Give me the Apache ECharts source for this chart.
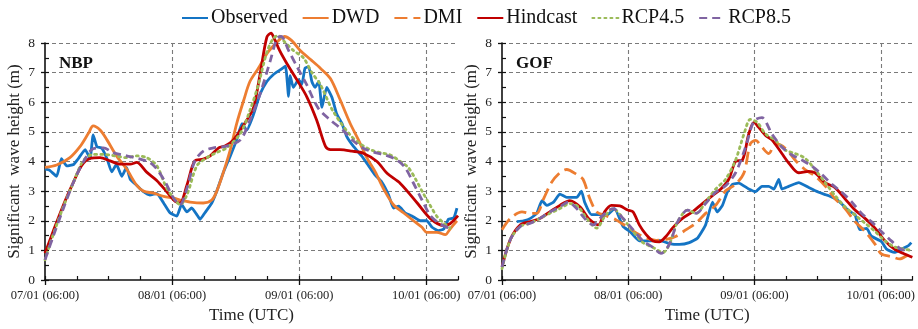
<!DOCTYPE html>
<html>
<head>
<meta charset="utf-8">
<script src="https://cdn.jsdelivr.net/npm/echarts@6/dist/echarts.min.js"></script>
<style>
  html, body { margin: 0; padding: 0; background: #fff; }
  #chart { width: 918px; height: 329px; }
</style>
</head>
<body>
<div id="chart"></div>
<script>
// Hours since 07/01 06:00 UTC, significant wave height (m)
const seriesNames = ['Observed', 'DWD', 'DMI', 'Hindcast', 'RCP4.5', 'RCP8.5'];
const panelNames = ['NBP', 'GOF'];
const xTickLabels = ['07/01 (06:00)', '08/01 (06:00)', '09/01 (06:00)', '10/01 (06:00)'];

const nbpObserved = [[0,3.75],[0.9,3.7],[2.2,3.5],[3.1,4.1],[4.1,3.85],[5.4,3.9],[6.3,4.1],[7.6,4.4],[8.5,4.1],[9.1,4.9],[9.8,4.5],[10.7,4.45],[11.7,4.1],[12.6,3.65],[13.5,3.9],[14.5,3.5],[15.4,3.8],[16.1,3.4],[17.3,3.2],[18.6,2.98],[19.8,2.87],[21.1,2.92],[22.4,2.6],[23.6,2.27],[24.9,2.16],[25.8,2.55],[26.8,2.3],[27.7,2.43],[28.7,2.2],[29.3,2.05],[30.2,2.27],[31.5,2.6],[32.4,2.98],[33.7,3.64],[35.0,4.19],[36.2,4.73],[37.2,5.28],[38.1,5.06],[39.4,5.6],[40.6,6.27],[41.9,6.7],[43.1,6.93],[44.4,7.09],[45.4,7.22],[46.0,6.2],[46.3,6.9],[46.9,6.5],[47.9,6.76],[48.5,6.6],[49.1,7.15],[49.8,7.2],[50.4,6.7],[51.0,6.5],[51.7,6.7],[52.3,5.83],[53.2,6.5],[54.2,6.16],[55.1,5.6],[56.1,5.28],[57.0,4.84],[58.3,4.5],[59.8,4.19],[61.1,3.86],[62.4,3.53],[63.6,3.31],[64.9,2.87],[65.8,2.43],[66.8,2.49],[68.0,2.27],[69.3,2.16],[70.9,2.0],[72.1,2.0],[73.1,1.78],[74.3,1.67],[75.3,1.72],[76.2,2.05],[77.2,2.1],[77.8,2.43]];
const nbpDWD = [[0,3.8],[2.2,3.88],[4.7,4.13],[6.6,4.5],[8.2,4.95],[9.1,5.2],[10.4,5.06],[11.7,4.73],[13.5,4.19],[15.4,3.75],[17.3,3.2],[18.6,3.0],[20.5,2.93],[22.4,2.82],[24.3,2.76],[25.5,2.7],[27.4,2.63],[29.9,2.6],[31.5,2.7],[32.4,2.98],[33.7,3.64],[35.0,4.4],[36.2,5.28],[37.5,6.05],[38.7,6.7],[40.3,7.15],[41.9,7.64],[43.1,7.9],[44.4,8.13],[45.2,8.22],[46.6,8.08],[48.2,7.75],[50.1,7.45],[52.0,7.15],[53.9,6.8],[55.7,6.1],[57.6,5.3],[59.2,4.73],[60.8,4.12],[62.4,3.64],[63.9,3.09],[65.8,2.54],[67.7,2.27],[69.6,2.0],[71.2,1.78],[72.1,1.61],[74.0,1.61],[75.6,1.53],[76.5,1.72],[77.8,2.0]];
const nbpHindcast = [[0,0.9],[1.6,1.67],[3.5,2.54],[5.4,3.31],[6.9,3.86],[8.5,4.1],[10.4,4.13],[12.3,4.02],[14.2,3.91],[16.1,3.91],[17.3,3.97],[19.2,3.64],[21.1,3.36],[23.0,2.98],[24.6,2.65],[25.5,2.6],[26.8,3.2],[28.3,4.02],[29.9,4.08],[31.2,4.19],[32.8,4.46],[34.0,4.52],[35.6,4.73],[36.9,5.06],[38.1,5.39],[39.4,5.83],[40.6,6.93],[41.9,8.2],[42.7,8.33],[43.3,8.15],[44.3,7.75],[45.7,7.3],[47.6,6.75],[49.4,6.2],[51.3,5.4],[53.0,4.5],[53.9,4.4],[55.7,4.4],[58.0,4.35],[60.1,4.28],[62.7,4.0],[64.6,3.6],[67.1,3.26],[70.3,2.6],[72.8,2.07],[75.2,1.84],[76.5,1.9],[78,2.17]];
const nbpRCP45 = [[0,0.68],[1.6,1.56],[3.5,2.49],[5.4,3.31],[7.2,4.02],[9.1,4.24],[11.0,4.24],[12.9,4.2],[15.4,4.13],[17.3,4.19],[19.2,4.13],[21.1,3.86],[23.0,3.09],[24.6,2.7],[25.5,2.54],[26.8,2.87],[28.7,3.86],[30.6,4.13],[32.4,4.3],[34.3,4.46],[36.9,4.95],[38.7,5.72],[40.3,6.6],[41.9,7.69],[43.1,8.15],[44.1,8.25],[45.2,8.05],[46.9,7.75],[48.8,7.5],[50.4,7.0],[52.0,6.6],[54.4,5.7],[57.6,4.9],[59.5,4.6],[61.4,4.4],[63.3,4.3],[65.2,4.22],[67.1,4.0],[68.6,3.8],[70.0,3.4],[71.2,3.0],[72.8,2.5],[74.0,2.15],[75.2,1.94],[76.5,1.75]];
const nbpRCP85 = [[0,0.68],[1.6,1.5],[3.5,2.43],[5.4,3.31],[7.2,3.97],[9.1,4.43],[11.0,4.46],[12.9,4.3],[15.4,4.19],[18.0,4.08],[19.8,3.97],[21.1,3.75],[22.7,3.31],[24.3,2.76],[25.5,2.54],[26.8,3.09],[28.3,4.02],[29.9,4.35],[31.8,4.46],[34.3,4.52],[36.9,4.73],[38.7,5.39],[40.6,6.27],[42.5,7.37],[43.8,8.15],[44.6,8.22],[46.0,7.75],[47.6,7.2],[49.4,6.6],[51.6,5.8],[53.9,5.4],[56.3,5.05],[58.2,4.7],[60.1,4.45],[62.4,4.3],[64.6,4.2],[66.5,4.05],[68.0,3.8],[69.5,3.3],[71.2,2.7],[72.8,2.17],[74.6,1.9],[76.9,1.7]];

const gofObserved = [[2.8,1.97],[4.1,2.0],[5.4,2.08],[6.6,2.25],[7.6,2.68],[8.5,2.52],[9.8,2.63],[11.0,2.9],[12.3,2.79],[14.2,2.79],[15.1,3.0],[15.7,2.63],[17.0,2.21],[18.6,2.21],[19.8,2.17],[21.4,2.41],[23.0,1.81],[24.3,1.64],[26.1,1.32],[28.0,1.32],[29.9,1.34],[31.8,1.23],[33.7,1.2],[35.6,1.26],[37.2,1.42],[38.7,1.86],[40.0,2.63],[40.9,2.3],[41.9,2.52],[42.8,2.96],[43.8,3.23],[45.0,3.27],[46.9,3.07],[48.2,2.98],[49.4,3.16],[50.7,3.16],[51.7,3.07],[52.6,3.4],[53.2,3.07],[54.5,3.16],[56.4,3.29],[58.3,3.12],[60.2,2.96],[62.0,2.85],[63.9,2.68],[65.8,2.35],[67.1,2.2],[68.0,1.7],[69.3,1.74],[70.2,1.48],[72.1,1.3],[73.1,1.04],[74.6,0.93],[75.9,1.04],[77.2,1.15],[77.8,1.26]];
const gofDMI = [[0,1.7],[1.6,2.08],[3.8,2.3],[5.4,2.25],[6.6,2.25],[7.9,2.74],[9.4,3.29],[11.0,3.62],[12.3,3.73],[14.2,3.56],[15.4,3.4],[16.7,2.74],[18.0,2.3],[19.8,2.17],[21.7,2.03],[23.6,1.81],[25.5,1.59],[27.4,1.42],[29.3,1.34],[31.2,1.37],[33.1,1.48],[35.0,1.7],[36.9,1.92],[38.7,2.25],[40.6,2.52],[42.5,3.01],[44.4,3.23],[46.0,3.62],[47.2,4.6],[48.2,4.71],[49.4,4.49],[50.7,4.27],[52.0,4.6],[53.9,4.44],[55.7,4.05],[57.6,3.73],[59.5,3.51],[61.4,3.18],[63.3,2.74],[65.2,2.41],[67.1,1.97],[69.0,1.64],[70.9,1.21],[72.1,0.88],[74.0,0.79],[75.6,0.71],[77.2,0.85],[78,0.93]];
const gofHindcast = [[0,0.44],[1.6,1.37],[3.5,1.86],[5.4,1.97],[7.2,2.08],[9.1,2.3],[11.0,2.52],[12.9,2.68],[14.8,2.47],[16.7,2.03],[18.3,1.86],[19.5,2.3],[20.8,2.52],[22.4,2.5],[23.9,2.36],[24.9,2.3],[26.1,1.86],[27.4,1.53],[28.7,1.32],[29.9,1.29],[31.2,1.48],[32.4,1.75],[34.3,2.08],[36.2,2.3],[38.1,2.58],[40.0,2.85],[41.6,3.07],[43.1,3.4],[44.4,4.0],[45.7,4.05],[46.9,4.93],[47.9,5.32],[48.8,5.15],[50.1,4.88],[51.3,4.73],[53.2,4.27],[54.5,3.95],[56.4,3.62],[58.3,3.67],[59.5,3.62],[61.4,3.29],[63.3,3.12],[65.2,2.74],[67.1,2.36],[69.0,2.08],[70.9,1.75],[72.8,1.32],[74.6,1.04],[76.5,0.88],[78,0.77]];
const gofRCP45 = [[0,0.38],[1.6,1.37],[3.5,1.81],[5.4,1.92],[7.2,2.08],[9.1,2.25],[11.0,2.41],[12.9,2.58],[14.5,2.47],[16.1,2.08],[18.0,1.75],[19.5,2.14],[21.1,2.41],[23.0,2.08],[24.9,1.64],[26.8,1.26],[28.7,1.1],[30.6,0.93],[31.8,1.2],[33.4,1.97],[35.3,2.36],[36.9,2.25],[38.7,2.63],[40.6,3.07],[42.5,3.4],[44.4,4.05],[46.0,4.93],[47.2,5.42],[48.5,5.32],[50.1,4.93],[52.0,4.71],[53.9,4.38],[55.7,4.27],[57.6,4.11],[59.5,3.73],[61.4,3.29],[63.3,2.85],[65.2,2.47],[67.1,2.19],[69.0,1.92],[70.9,1.64],[72.8,1.32],[74.6,1.12],[76.5,1.04],[77.8,1.0]];
const gofRCP85 = [[0,0.44],[1.6,1.37],[3.5,1.81],[5.4,1.92],[7.2,2.08],[9.1,2.3],[11.0,2.47],[12.6,2.63],[14.2,2.41],[15.7,2.08],[17.3,1.86],[19.2,2.19],[21.1,2.41],[23.0,2.08],[24.9,1.7],[26.8,1.32],[28.7,1.1],[30.2,0.9],[31.8,1.2],[33.4,1.97],[35.3,2.36],[36.9,2.25],[38.7,2.58],[40.6,2.96],[42.5,3.18],[44.4,3.62],[46.3,4.49],[47.9,5.37],[49.4,5.48],[51.3,4.93],[53.2,4.49],[55.1,4.22],[57.0,4.05],[58.9,3.84],[60.8,3.56],[62.7,3.23],[64.6,2.96],[66.5,2.63],[68.3,2.25],[70.2,1.97],[72.1,1.64],[74.0,1.32],[75.9,1.04],[77.5,0.99]];

const FONT = '"Liberation Serif", "Times New Roman", serif';
const styles = {
  'Observed': { color: '#1474c4', type: 'solid', width: 2.8, smooth: 0.15 },
  'DWD':      { color: '#ed7d31', type: 'solid', width: 2.8, smooth: 0.3 },
  'DMI':      { color: '#ed7d31', type: [13, 6], width: 2.8, smooth: 0.3 },
  'Hindcast': { color: '#c00000', type: 'solid', width: 2.8, smooth: 0.3 },
  'RCP4.5':   { color: '#9bbb59', type: [2, 4], width: 2.8, smooth: 0.3 },
  'RCP8.5':   { color: '#8064a2', type: [8, 5], width: 2.8, smooth: 0.3 }
};

const panels = [
  { left: 45, data: { 'Observed': nbpObserved, 'DWD': nbpDWD, 'Hindcast': nbpHindcast, 'RCP4.5': nbpRCP45, 'RCP8.5': nbpRCP85 } },
  { left: 502, data: { 'Observed': gofObserved, 'DMI': gofDMI, 'Hindcast': gofHindcast, 'RCP4.5': gofRCP45, 'RCP8.5': gofRCP85 } }
];

const grid = [], xAxis = [], yAxis = [], series = [], title = [];
const gridLine = { color: '#7a7a7a', width: 1.1, type: [4, 3] };

panels.forEach((p, g) => {
  grid.push({ left: p.left, top: 43, width: 413, height: 243 });
  const xMain = xAxis.length;
  xAxis.push({
    type: 'value', gridIndex: g, min: 0, max: 78, interval: 24, position: 'bottom',
    name: 'Time (UTC)', nameLocation: 'middle', nameGap: 27,
    nameTextStyle: { fontFamily: FONT, fontSize: 17, color: '#222' },
    axisLine: { show: true, onZero: false, lineStyle: { color: '#111', width: 1.6 } },
    axisTick: { show: true, length: 5, lineStyle: { color: '#111', width: 1.3 } },
    axisLabel: {
      fontFamily: FONT, fontSize: 12.5, color: '#222', margin: 9, showMaxLabel: false,
      formatter: v => (v % 24 === 0 ? xTickLabels[v / 24] : '')
    },
    splitLine: { show: true, showMinLine: false, showMaxLine: false, lineStyle: gridLine }
  });
  xAxis.push({
    type: 'value', gridIndex: g, min: 0, max: 78, interval: 6, position: 'bottom',
    axisLine: { show: false }, axisLabel: { show: false }, splitLine: { show: false },
    axisTick: { show: true, inside: true, length: 4, lineStyle: { color: '#111', width: 1.2 } }
  });
  const yMain = yAxis.length;
  yAxis.push({
    type: 'value', gridIndex: g, min: 0, max: 8, interval: 1, position: 'left',
    name: 'Significant  wave height (m)', nameLocation: 'middle', nameGap: 22,
    nameTextStyle: { fontFamily: FONT, fontSize: 17, color: '#222' },
    axisLine: { show: true, onZero: false, lineStyle: { color: '#111', width: 1.6 } },
    axisTick: { show: true, length: 4, lineStyle: { color: '#111', width: 1.3 } },
    axisLabel: { fontFamily: FONT, fontSize: 13.5, color: '#222', margin: 10 },
    splitLine: { show: true, showMinLine: false, lineStyle: gridLine }
  });
  yAxis.push({
    type: 'value', gridIndex: g, min: 0, max: 8, interval: 0.5, position: 'left',
    axisLine: { show: false }, axisLabel: { show: false }, splitLine: { show: false },
    axisTick: { show: true, inside: true, length: 4, lineStyle: { color: '#111', width: 1.2 } }
  });
  title.push({
    text: panelNames[g], left: p.left + 9, top: 50,
    textStyle: { fontFamily: FONT, fontSize: 17, fontWeight: 'bold', color: '#111' }
  });
  seriesNames.forEach(name => {
    if (!p.data[name]) return;
    const s = styles[name];
    series.push({
      name, type: 'line', xAxisIndex: xMain, yAxisIndex: yMain,
      data: p.data[name], symbol: 'none', smooth: s.smooth, clip: false,
      color: s.color,
      lineStyle: { color: s.color, width: s.width, type: s.type, cap: name === 'RCP4.5' ? 'round' : 'butt' },
      emphasis: { disabled: true }, animation: false
    });
  });
});

const chart = echarts.init(document.getElementById('chart'), null, { renderer: 'canvas' });
chart.setOption({
  backgroundColor: '#ffffff',
  animation: false,
  title,
  legend: {
    data: seriesNames, left: 176, top: 3, itemWidth: 26, itemHeight: 14, itemGap: 14,
    itemStyle: { opacity: 0 },
    textStyle: { fontFamily: FONT, fontSize: 20, color: '#111', padding: [0, 0, 0, -2] }
  },
  grid, xAxis, yAxis, series
});
</script>
</body>
</html>
